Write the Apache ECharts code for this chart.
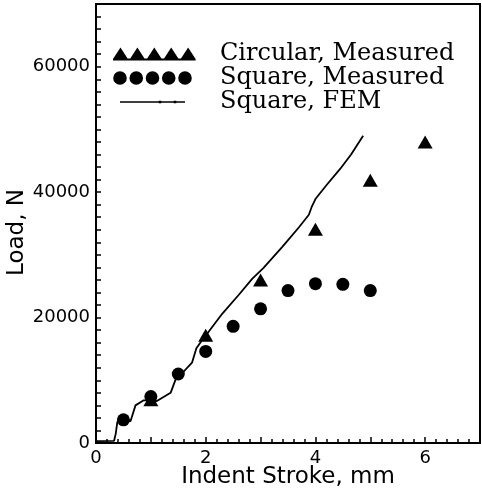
<!DOCTYPE html>
<html>
<head>
<meta charset="utf-8">
<script src="https://cdn.jsdelivr.net/npm/echarts@6/dist/echarts.min.js"></script>
<style>
html,body{margin:0;padding:0;background:#fff;}
#chart{width:482px;height:489px;}
</style>
</head>
<body>
<div id="chart"></div>
<script>
// ---- data ----
var seriesNames = ['Circular, Measured', 'Square, Measured', 'Square, FEM'];

var circularX = [1, 2, 3, 4, 5, 6];
var circularY = [6900, 17200, 26000, 34100, 41900, 48000];

var squareX = [0.5, 1.0, 1.5, 2.0, 2.5, 3.0, 3.5, 4.0, 4.5, 5.0];
var squareY = [3700, 7400, 11000, 14600, 18600, 21400, 24300, 25400, 25300, 24300];

var femX = [0, 0.33, 0.36, 0.39, 0.5, 0.63, 0.72, 0.87, 1.0, 1.11, 1.36, 1.45, 1.6, 1.75, 1.83, 1.95, 2.05, 2.3, 2.6, 2.85, 3.05, 3.4, 3.7, 3.88, 3.93, 4.0, 4.2, 4.45, 4.65, 4.87];
var femY = [300, 350, 1500, 3400, 3400, 3500, 6000, 6800, 6800, 6700, 8000, 10100, 11400, 12800, 15100, 16600, 17700, 20600, 23600, 26200, 27900, 31300, 34400, 36400, 37600, 38900, 41100, 43700, 46000, 49000];

var xTickLabels = [0, 2, 4, 6];
var yTickLabels = [0, 20000, 40000, 60000];

function zip(xs, ys) { return xs.map(function (x, i) { return [x, ys[i]]; }); }

// ---- legend icon paths (102 x 14 box; invisible corner points fix the box) ----
var box = 'M0 0 L0.001 0 Z M102 14 L101.999 14 Z ';
function triRow() {
  var p = box, cs = [7, 24, 41, 58, 75];
  cs.forEach(function (c) { p += 'M' + (c - 7.5) + ' 12 L' + c + ' 0.5 L' + (c + 7.5) + ' 12 Z '; });
  p += 'M-0.5 11.5 L82.5 11.5 L82.5 13.5 L-0.5 13.5 Z';
  return 'path://' + p;
}
function circRow() {
  var p = box, cs = [7, 23.25, 39.5, 55.75, 72], r = 6.8, cy = 7;
  cs.forEach(function (c) {
    p += 'M' + (c - r) + ' ' + cy + ' A' + r + ' ' + r + ' 0 1 0 ' + (c + r) + ' ' + cy +
         ' A' + r + ' ' + r + ' 0 1 0 ' + (c - r) + ' ' + cy + ' Z ';
  });
  return 'path://' + p;
}
function lineRow() {
  var p = box + 'M7 6.2 L72 6.2 L72 7.8 L7 7.8 Z ';
  [47, 62].forEach(function (c) { p += 'M' + (c - 1.3) + ' 5.7 L' + (c + 1.3) + ' 5.7 L' + (c + 1.3) + ' 8.3 L' + (c - 1.3) + ' 8.3 Z '; });
  return 'path://' + p;
}

var chart = echarts.init(document.getElementById('chart'), null, {renderer: 'canvas'});
var black = '#000';
var tickFont = {fontFamily: 'DejaVu Sans', fontSize: 18, color: black};

var option = {
  animation: false,
  backgroundColor: '#fff',
  grid: {left: 96, right: 2, top: 4, bottom: 46, show: true, borderColor: black, borderWidth: 2,
         backgroundColor: 'transparent', containLabel: false, outerBoundsMode: 'none'},
  legend: {
    orient: 'vertical', left: 113, top: 42, padding: 0,
    itemWidth: 102, itemHeight: 14, itemGap: 0,
    symbolKeepAspect: false,
    textStyle: {fontFamily: 'DejaVu Serif', fontSize: 24, color: black},
    itemStyle: {borderWidth: 0, opacity: 1},
    data: [
      {name: seriesNames[0], icon: triRow()},
      {name: seriesNames[1], icon: circRow()},
      {name: seriesNames[2], icon: lineRow()}
    ]
  },
  xAxis: {
    type: 'value', min: 0, max: 7, interval: 1,
    name: 'Indent Stroke, mm', nameLocation: 'middle', nameGap: 23, nameMoveOverlap: false,
    nameTextStyle: {fontFamily: 'DejaVu Sans', fontSize: 23, color: black},
    axisLine: {show: true, onZero: false, lineStyle: {color: black, width: 2}},
    axisTick: {show: true, inside: true, length: 6, lineStyle: {color: black, width: 1.5}},
    minorTick: {show: true, splitNumber: 5, length: 4, lineStyle: {color: black, width: 1.5}},
    axisLabel: Object.assign({margin: 6, formatter: function (v) { return xTickLabels.indexOf(v) >= 0 ? String(v) : ''; }}, tickFont),
    splitLine: {show: false}
  },
  yAxis: {
    type: 'value', min: 0, max: 70000, interval: 10000,
    name: 'Load, N', nameLocation: 'middle', nameGap: 67, nameRotate: 90, nameMoveOverlap: false,
    nameTextStyle: {fontFamily: 'DejaVu Sans', fontSize: 23, color: black, padding: [0, 18, 0, 0]},
    axisLine: {show: true, onZero: false, lineStyle: {color: black, width: 2}},
    axisTick: {show: true, inside: true, length: 5, lineStyle: {color: black, width: 1.5}},
    minorTick: {show: true, splitNumber: 5, length: 5, lineStyle: {color: black, width: 1.5}},
    axisLabel: Object.assign({margin: 6, formatter: function (v) { return yTickLabels.indexOf(v) >= 0 ? String(v) : ''; }}, tickFont),
    splitLine: {show: false}
  },
  series: [
    {
      name: seriesNames[0], type: 'scatter', symbol: 'triangle', symbolSize: [15, 13],
      itemStyle: {color: black, opacity: 1}, data: zip(circularX, circularY), z: 3
    },
    {
      name: seriesNames[1], type: 'scatter', symbol: 'circle', symbolSize: 13,
      itemStyle: {color: black, opacity: 1}, data: zip(squareX, squareY), z: 4
    },
    {
      name: seriesNames[2], type: 'line', symbol: 'none', showSymbol: false,
      lineStyle: {color: black, width: 1.8}, itemStyle: {color: black},
      data: zip(femX, femY), z: 5
    }
  ]
};
chart.setOption(option);
</script>
</body>
</html>
